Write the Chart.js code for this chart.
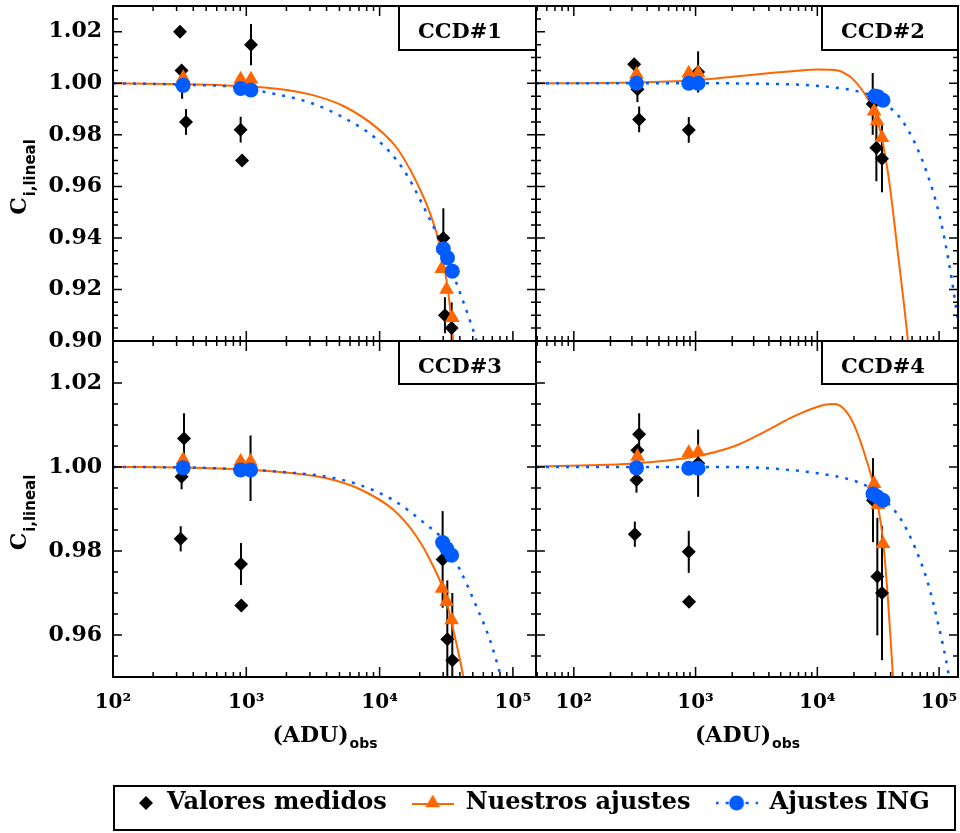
<!DOCTYPE html>
<html>
<head>
<meta charset="utf-8">
<script src="https://cdn.jsdelivr.net/npm/chart.js@4.4.1/dist/chart.umd.min.js"></script>
<style>
  body { margin: 0; background: #fff; overflow: hidden; }
  #wrap { position: relative; width: 960px; height: 833px; overflow: hidden; }
  #wrap canvas { position: absolute; left: 0; }
  #legendBox { position: absolute; left: 113px; top: 785px; width: 843px; height: 46px;
               box-sizing: border-box; border: 2px solid #000; }
</style>
</head>
<body>
<div id="wrap">
  <div id="legendBox"></div>
  <canvas id="c1" width="960" height="833" style="top:0"></canvas>
  <canvas id="c2" width="960" height="833" style="top:0"></canvas>
  <canvas id="c3" width="960" height="833" style="top:0"></canvas>
  <canvas id="c4" width="960" height="833" style="top:0"></canvas>
  <canvas id="leg" width="960" height="200" style="top:766px"></canvas>
</div>
<script>
// axis ticks and labels
const xTicks = [1e2, 1e3, 1e4, 1e5];
const xTickLabels = ['10²', '10³', '10⁴', '10⁵'];
const yTicksTop = [0.90, 0.92, 0.94, 0.96, 0.98, 1.00, 1.02];
const yTicksBottom = [0.96, 0.98, 1.00, 1.02];
const panelNames = ['CCD#1', 'CCD#2', 'CCD#3', 'CCD#4'];
const legendLabels = ['Valores medidos', 'Nuestros ajustes', 'Ajustes ING'];

// CCD#1
const med1X = [318, 327, 330, 353, 907, 929, 1084, 30070, 30900, 34700];
const med1Y = [1.020, 1.005, 0.999, 0.985, 0.982, 0.970, 1.015, 0.940, 0.910, 0.905];
const med1Err = [0, 0.002, 0.005, 0.005, 0.005, 0, 0.008, 0.0115, 0.007, 0.010];
const our1X = [336, 907, 1084, 29200, 31800, 35100];
const our1Y = [1.0022, 1.0016, 1.0016, 0.928, 0.920, 0.909];
const ing1X = [336, 907, 1084, 30070, 32300, 35100];
const ing1Y = [0.9992, 0.9980, 0.9974, 0.9358, 0.9323, 0.9271];
const ourFit1X = [100, 300, 1000, 1690, 3000, 5350, 9500, 13430, 16900, 20100, 22540, 25290, 27560, 30050, 32750, 35700, 37000];
const ourFit1Y = [1.0000, 0.9997, 0.9988, 0.9979, 0.9957, 0.9912, 0.9828, 0.9750, 0.9666, 0.9588, 0.9530, 0.9459, 0.9394, 0.9304, 0.9187, 0.8999, 0.890];
const ingFit1X = [100, 336, 907, 1268, 3005, 5350, 9500, 15070, 22500, 30070, 40090, 52000, 56000];
const ingFit1Y = [1.0000, 0.9995, 0.9984, 0.9970, 0.9925, 0.9867, 0.9783, 0.9666, 0.9498, 0.9358, 0.9187, 0.9019, 0.896];

// CCD#2
const med2X = [313, 333, 344, 879, 1049, 28500, 30540, 33960];
const med2Y = [1.0074, 0.9977, 0.986, 0.9819, 1.0044, 0.992, 0.975, 0.9707];
const med2Err = [0, 0.005, 0.005, 0.005, 0.008, 0.012, 0.013, 0.013];
const our2X = [327, 879, 1049, 29250, 30950, 33960];
const our2Y = [1.0035, 1.0039, 1.0040, 0.9892, 0.9854, 0.9789];
const ing2X = [327, 879, 1049, 29600, 31500, 34600];
const ing2Y = [1.0000, 1.0000, 1.0000, 0.9951, 0.9948, 0.9934];
const ourFit2X = [48.9, 300, 984, 2100, 3935, 6520, 10140, 14800, 16790, 19050, 26100, 31500, 38000, 45900, 55500, 58000];
const ourFit2Y = [1.0000, 1.0003, 1.0012, 1.0026, 1.0039, 1.0048, 1.0054, 1.0050, 1.0039, 1.0022, 0.9938, 0.9850, 0.9654, 0.9340, 0.9000, 0.890];
const ingFit2X = [48.9, 1000, 3935, 10140, 19050, 26100, 30000, 38000, 48900, 63000, 81100, 101000, 122000, 143000];
const ingFit2Y = [1.0000, 1.0000, 0.9998, 0.9990, 0.9974, 0.9958, 0.9950, 0.9912, 0.9860, 0.9770, 0.9640, 0.9485, 0.9290, 0.9080];

// CCD#3
const med3X = [322, 327, 341, 912, 917, 1076, 29700, 32200, 35100];
const med3Y = [0.9829, 0.9977, 1.0068, 0.9769, 0.967, 0.9997, 0.978, 0.959, 0.954];
const med3Err = [0.003, 0.003, 0.006, 0.005, 0, 0.0078, 0.0115, 0.014, 0.016];
const our3X = [336, 907, 1076, 29400, 31800, 34700];
const our3Y = [1.0017, 1.0013, 1.0013, 0.9711, 0.9679, 0.9636];
const ing3X = [336, 907, 1076, 29700, 31800, 34700];
const ing3Y = [0.9998, 0.9993, 0.9993, 0.9820, 0.9806, 0.9790];
const ourFit3X = [100, 336, 1128, 2255, 4008, 7130, 12680, 18970, 25300, 30070, 35740, 42470, 45000];
const ourFit3Y = [1.0000, 0.9999, 0.9993, 0.9985, 0.9973, 0.9947, 0.9898, 0.9834, 0.9763, 0.9707, 0.9612, 0.9500, 0.945];
const ingFit3X = [100, 336, 1128, 2255, 4008, 7130, 12680, 22550, 30070, 40090, 53400, 67300, 80000, 85000];
const ingFit3Y = [1.0000, 0.9999, 0.9993, 0.9986, 0.9977, 0.9957, 0.9921, 0.9862, 0.9826, 0.9755, 0.9667, 0.9588, 0.9509, 0.948];

// CCD#4
const med4X = [317, 327, 333, 344, 879, 884, 1049, 28650, 31100, 33960];
const med4Y = [0.984, 0.9969, 1.004, 1.0078, 0.9798, 0.9679, 1.0009, 0.9921, 0.9739, 0.970];
const med4Err = [0.003, 0.003, 0, 0.005, 0.005, 0, 0.008, 0.010, 0.014, 0.016];
const our4X = [333, 879, 1049, 29250, 31500, 34600];
const our4Y = [1.0025, 1.0034, 1.0036, 0.9960, 0.9910, 0.9817];
const ing4X = [327, 879, 1049, 28650, 31100, 34600];
const ing4Y = [0.9998, 0.9997, 0.9997, 0.9936, 0.9929, 0.9921];
const ourFit4X = [48.9, 329, 985, 2099, 3915, 5934, 7447, 9521, 11500, 13900, 16160, 18450, 20670, 22700, 24490, 26080, 28660, 31510, 34630, 38060, 41830, 43200];
const ourFit4Y = [1.0001, 1.0009, 1.0025, 1.0050, 1.0088, 1.0116, 1.0129, 1.0141, 1.0148, 1.0150, 1.0141, 1.0120, 1.0091, 1.0060, 1.0030, 1.0005, 0.9962, 0.9907, 0.9826, 0.9683, 0.9500, 0.944];
const ingFit4X = [48.9, 2100, 3935, 10140, 19050, 26100, 38000, 48900, 63000, 81100, 98000, 118000, 125000];
const ingFit4Y = [1.0000, 1.0000, 0.9997, 0.9985, 0.9969, 0.9953, 0.9914, 0.9874, 0.9810, 0.9723, 0.9628, 0.9517, 0.947];

const ORANGE = 'rgb(255,102,0)';
const BLUE = 'rgb(0,92,255)';
const SERIF = '"DejaVu Serif", serif';
const SANS = '"DejaVu Sans", sans-serif';

function pts(xs, ys) {
  return xs.map((x, i) => ({x: x, y: ys[i]}));
}

// keep chart areas exactly where the panels sit
function noPad(s) {
  s.paddingLeft = 0; s.paddingRight = 0; s.paddingTop = 0; s.paddingBottom = 0;
}

// frame, inward ticks, error bars, CCD label and axis titles
const panelDeco = {
  id: 'panelDeco',
  beforeDatasetsDraw(chart) {
    const {ctx, chartArea: a, scales: {x, y}} = chart;
    ctx.save();
    ctx.beginPath();
    ctx.rect(a.left, a.top, a.width, a.height);
    ctx.clip();
    ctx.strokeStyle = '#000';
    ctx.lineWidth = 2;
    chart.data.datasets.forEach(ds => {
      if (!ds.errorBars) return;
      ds.data.forEach((p, i) => {
        const e = ds.errorBars[i];
        if (!e) return;
        const px = x.getPixelForValue(p.x);
        ctx.beginPath();
        ctx.moveTo(px, y.getPixelForValue(p.y - e));
        ctx.lineTo(px, y.getPixelForValue(p.y + e));
        ctx.stroke();
      });
    });
    ctx.restore();
  },
  afterDraw(chart, args, opts) {
    const {ctx, chartArea: a, scales: {x, y}} = chart;
    ctx.save();
    ctx.strokeStyle = '#000';
    ctx.fillStyle = '#000';
    ctx.lineWidth = 1.5;
    ctx.beginPath();
    const d0 = Math.floor(Math.log10(x.min)), d1 = Math.ceil(Math.log10(x.max));
    for (let d = d0; d <= d1; d++) {
      for (let m = 1; m < 10; m++) {
        const v = m * Math.pow(10, d);
        if (v < x.min || v > x.max) continue;
        const px = x.getPixelForValue(v);
        const len = m === 1 ? 10 : 5;
        ctx.moveTo(px, a.bottom); ctx.lineTo(px, a.bottom - len);
        ctx.moveTo(px, a.top); ctx.lineTo(px, a.top + len);
      }
    }
    const n0 = Math.ceil(y.min / 0.005 - 1e-6), n1 = Math.floor(y.max / 0.005 + 1e-6);
    for (let n = n0; n <= n1; n++) {
      const py = y.getPixelForValue(n * 0.005);
      const len = n % 4 === 0 ? 9 : 5;
      ctx.moveTo(a.left, py); ctx.lineTo(a.left + len, py);
      ctx.moveTo(a.right, py); ctx.lineTo(a.right - len, py);
    }
    ctx.stroke();

    ctx.lineWidth = 2;
    ctx.strokeRect(a.left, a.top, a.width, a.height);

    // CCD label box
    const bx = a.right - opts.boxW;
    ctx.fillStyle = '#fff';
    ctx.fillRect(bx, a.top, opts.boxW, opts.boxH);
    ctx.strokeRect(bx, a.top, opts.boxW, opts.boxH);
    ctx.fillStyle = '#000';
    ctx.font = 'bold 21px ' + SERIF;
    ctx.textAlign = 'center';
    ctx.textBaseline = 'middle';
    ctx.fillText(opts.label, bx + 61, a.top + 27);

    ctx.textAlign = 'left';
    ctx.textBaseline = 'alphabetic';
    if (opts.yTitle) {
      ctx.save();
      ctx.translate(26, (a.top + a.bottom) / 2 + 4);
      ctx.rotate(-Math.PI / 2);
      ctx.font = 'bold 22px ' + SERIF;
      const wC = ctx.measureText('C').width;
      ctx.font = 'bold 15px ' + SANS;
      const wS = ctx.measureText('i,lineal').width;
      const x0 = -(wC + wS) / 2;
      ctx.font = 'bold 22px ' + SERIF;
      ctx.fillText('C', x0, 0);
      ctx.font = 'bold 15px ' + SANS;
      ctx.fillText('i,lineal', x0 + wC + 1, 9);
      ctx.restore();
    }
    if (opts.xTitle) {
      ctx.font = 'bold 22px ' + SERIF;
      const w1 = ctx.measureText('(ADU)').width;
      ctx.font = 'bold 14px ' + SANS;
      const w2 = ctx.measureText('obs').width;
      const x0 = (a.left + a.right) / 2 - (w1 + w2) / 2;
      ctx.font = 'bold 22px ' + SERIF;
      ctx.fillText('(ADU)', x0, 742);
      ctx.font = 'bold 14px ' + SANS;
      ctx.fillText('obs', x0 + w1 + 1, 748);
    }
    ctx.restore();
  }
};

const panels = [
  {id: 'c1', name: panelNames[0], area: {l: 113, t: 6, r: 536, b: 341}, xMin: 100, xMax: 1.49e5,
   yMin: 0.90, yMax: 1.030, yTicks: yTicksTop, showX: false, showY: true, boxW: 137, boxH: 44,
   med: [med1X, med1Y, med1Err], our: [our1X, our1Y], ing: [ing1X, ing1Y],
   ourFit: [ourFit1X, ourFit1Y], ingFit: [ingFit1X, ingFit1Y]},
  {id: 'c2', name: panelNames[1], area: {l: 536, t: 6, r: 958, b: 341}, xMin: 48.9, xMax: 1.43e5,
   yMin: 0.90, yMax: 1.030, yTicks: yTicksTop, showX: false, showY: false, boxW: 136, boxH: 44,
   med: [med2X, med2Y, med2Err], our: [our2X, our2Y], ing: [ing2X, ing2Y],
   ourFit: [ourFit2X, ourFit2Y], ingFit: [ingFit2X, ingFit2Y]},
  {id: 'c3', name: panelNames[2], area: {l: 113, t: 341, r: 536, b: 677}, xMin: 100, xMax: 1.49e5,
   yMin: 0.95, yMax: 1.030, yTicks: yTicksBottom, showX: true, showY: true, boxW: 137, boxH: 43,
   med: [med3X, med3Y, med3Err], our: [our3X, our3Y], ing: [ing3X, ing3Y],
   ourFit: [ourFit3X, ourFit3Y], ingFit: [ingFit3X, ingFit3Y]},
  {id: 'c4', name: panelNames[3], area: {l: 536, t: 341, r: 958, b: 677}, xMin: 48.9, xMax: 1.43e5,
   yMin: 0.95, yMax: 1.030, yTicks: yTicksBottom, showX: true, showY: false, boxW: 136, boxH: 43,
   med: [med4X, med4Y, med4Err], our: [our4X, our4Y], ing: [ing4X, ing4Y],
   ourFit: [ourFit4X, ourFit4Y], ingFit: [ingFit4X, ingFit4Y]}
];

const X_AXIS_H = 60;

panels.forEach(p => {
  const ctx = document.getElementById(p.id).getContext('2d');
  new Chart(ctx, {
    type: 'scatter',
    data: {
      datasets: [
        {label: legendLabels[2], data: pts(p.ing[0], p.ing[1]), order: 0,
         pointStyle: 'circle', pointRadius: 7.5, backgroundColor: BLUE, borderWidth: 0},
        {label: legendLabels[1], data: pts(p.our[0], p.our[1]), order: 1,
         pointStyle: 'triangle', pointRadius: 8.5, backgroundColor: ORANGE, borderWidth: 0},
        {label: legendLabels[0], data: pts(p.med[0], p.med[1]), errorBars: p.med[2], order: 2,
         pointStyle: 'rectRot', pointRadius: 7, backgroundColor: '#000', borderWidth: 0},
        {label: 'ING fit', data: pts(p.ingFit[0], p.ingFit[1]), order: 3, showLine: true,
         pointRadius: 0, borderColor: BLUE, borderWidth: 2.5, borderDash: [3, 7],
         cubicInterpolationMode: 'monotone'},
        {label: 'fit', data: pts(p.ourFit[0], p.ourFit[1]), order: 4, showLine: true,
         pointRadius: 0, borderColor: ORANGE, borderWidth: 2,
         cubicInterpolationMode: 'monotone'}
      ]
    },
    options: {
      responsive: false,
      animation: false,
      events: [],
      layout: {
        autoPadding: false,
        padding: {
          left: p.showY ? 0 : p.area.l,
          top: p.area.t,
          right: 960 - p.area.r,
          bottom: 833 - p.area.b - (p.showX ? X_AXIS_H : 0)
        }
      },
      scales: {
        x: {
          type: 'logarithmic',
          position: 'bottom',
          min: p.xMin,
          max: p.xMax,
          grid: {display: false, drawTicks: false},
          border: {display: false},
          afterBuildTicks: s => { s.ticks = xTicks.map(v => ({value: v})); },
          afterFit: s => { s.height = p.showX ? X_AXIS_H : 0; noPad(s); },
          ticks: {
            display: p.showX,
            autoSkip: false,
            maxRotation: 0,
            padding: 14,
            color: '#000',
            font: {family: SERIF, weight: 'bold', size: 20},
            callback: v => {
              const i = xTicks.indexOf(v);
              return i >= 0 ? xTickLabels[i] : '';
            }
          }
        },
        y: {
          min: p.yMin,
          max: p.yMax,
          grid: {display: false, drawTicks: false},
          border: {display: false},
          afterBuildTicks: s => { s.ticks = p.yTicks.map(v => ({value: v})); },
          afterFit: s => { s.width = p.showY ? p.area.l : 0; noPad(s); },
          ticks: {
            display: p.showY,
            autoSkip: false,
            padding: 11,
            color: '#000',
            font: {family: SERIF, weight: 'bold', size: 22},
            callback: v => v.toFixed(2)
          }
        }
      },
      plugins: {
        legend: {display: false},
        tooltip: {enabled: false},
        panelDeco: {label: p.name, boxW: p.boxW, boxH: p.boxH, yTitle: p.showY, xTitle: p.showX}
      }
    },
    plugins: [panelDeco]
  });
});

// legend symbols, drawn with Chart.js point helper
function legendIcon(draw) {
  const c = document.createElement('canvas');
  c.width = 42; c.height = 24;
  draw(c.getContext('2d'));
  return c;
}
const iconMed = legendIcon(g => {
  g.fillStyle = '#000';
  Chart.helpers.drawPoint(g, {pointStyle: 'rectRot', radius: 7, rotation: 0, borderWidth: 0}, 33, 12);
});
const iconOur = legendIcon(g => {
  g.strokeStyle = ORANGE; g.lineWidth = 2;
  g.beginPath(); g.moveTo(0, 13); g.lineTo(42, 13); g.stroke();
  g.fillStyle = ORANGE;
  Chart.helpers.drawPoint(g, {pointStyle: 'triangle', radius: 8.5, rotation: 0, borderWidth: 0}, 21, 12);
});
const iconIng = legendIcon(g => {
  g.strokeStyle = BLUE; g.lineWidth = 2.5; g.setLineDash([3, 7]);
  g.beginPath(); g.moveTo(0, 12); g.lineTo(42, 12); g.stroke();
  g.setLineDash([]);
  g.fillStyle = BLUE;
  Chart.helpers.drawPoint(g, {pointStyle: 'circle', radius: 7.5, rotation: 0, borderWidth: 0}, 21, 12);
});
const legendIcons = [iconMed, iconOur, iconIng];

new Chart(document.getElementById('leg').getContext('2d'), {
  type: 'scatter',
  data: {datasets: []},
  options: {
    responsive: false,
    animation: false,
    events: [],
    layout: {autoPadding: false, padding: {left: 88, top: 0}},
    scales: {x: {display: false}, y: {display: false}},
    plugins: {
      tooltip: {enabled: false},
      legend: {
        display: true,
        position: 'top',
        align: 'start',
        labels: {
          usePointStyle: true,
          pointStyleWidth: 42,
          padding: 25,
          color: '#000',
          font: {family: SERIF, weight: 'bold', size: 24},
          generateLabels: () => legendLabels.map((t, i) => ({
            text: t, pointStyle: legendIcons[i], fillStyle: '#000', strokeStyle: '#000',
            lineWidth: 0, hidden: false, datasetIndex: i
          }))
        }
      }
    }
  }
});
</script>
</body>
</html>
